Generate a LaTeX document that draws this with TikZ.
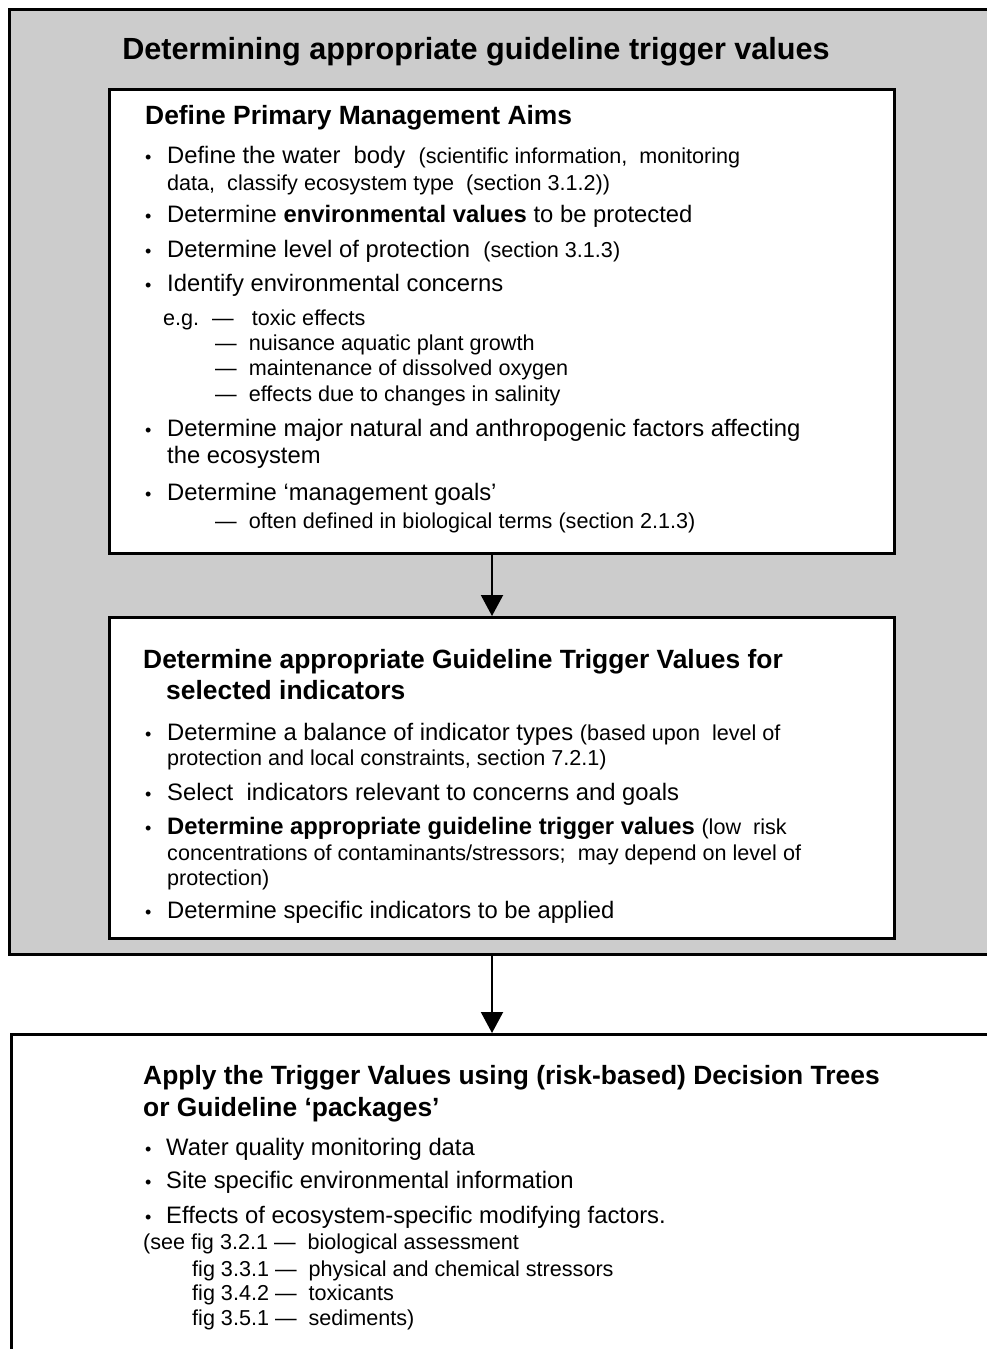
\documentclass[tikz,border=0pt]{standalone}
\usepackage{fontspec}
\setmainfont{Liberation Sans}
\usepackage{tikz}
\usepackage{xcolor}
\usetikzlibrary{arrows.meta,positioning}
\definecolor{shade}{HTML}{CCCCCC}
\definecolor{ink}{HTML}{000000}
\newcommand{\notesize}{\fontsize{21.6}{25}\selectfont}
\newcommand{\bul}[1][21pt]{\makebox[#1][l]{\fontsize{18}{20}\selectfont•}}
\tikzset{
  panel/.style={draw=ink, fill=shade, line width=2.6pt, inner sep=0pt, anchor=north west},
  card/.style={draw=ink, fill=white, line width=2.6pt, inner sep=0pt, anchor=north west},
  flow/.style={-{Triangle[length=21pt,width=22pt]}, line width=2pt, draw=ink},
  headline/.style={anchor=base, inner sep=0pt, text=ink,
                   font=\fontsize{30.6}{36}\selectfont\bfseries},
  head/.style={anchor=base west, inner sep=0pt, text=ink,
               font=\fontsize{26.4}{31}\selectfont\bfseries},
  item/.style={anchor=base west, inner sep=0pt, text=ink,
               font=\fontsize{23.8}{28}\selectfont},
  note/.style={anchor=base west, inner sep=0pt, text=ink, font=\notesize}
}

\begin{document}
\begin{tikzpicture}[x=1pt,y=-1pt]
  \useasboundingbox (0,0) rectangle (986,1349);
  % frames
  \node[panel,minimum width=1000pt,minimum height=945pt] (outer) at (8,8) {};
  \node[card,minimum width=785pt,minimum height=464pt] (aims) at (108,88) {};
  \node[card,minimum width=785pt,minimum height=321pt] (targets) at (108,616) {};
  \node[card,minimum width=1000pt,minimum height=400pt] (apply) at (10,1033) {};
  \coordinate (axis) at (492,0);
  \draw[flow] (axis |- aims.south) -- (axis |- targets.north);
  \draw[flow] (axis |- outer.south) -- (axis |- apply.north);

  \node[headline] (ttl) at (476,59) {Determining appropriate guideline trigger values};

  % primary management aims
  \node[head] (a0) at (145,124.5) {Define Primary Management Aims};
  \node[item] (a1) at (145,163.5) {\bul[22pt]Define the water\ \ body\ \ {\notesize(scientific information,\ \ monitoring}};
  \node[note] (a1b) at (167,190) {data,\ \ classify ecosystem type\ \ (section 3.1.2))};
  \node[item] (a2) at (145,222.5) {\bul[22pt]Determine \textbf{environmental values} to be protected};
  \node[item] (a3) at (145,257.5) {\bul[22pt]Determine level of protection\ \ {\notesize(section 3.1.3)}};
  \node[item] (a4) at (145,291.5) {\bul[22pt]Identify environmental concerns};
  \node[note] (eg1) at (163,325) {e.g.\hspace{13pt}—\hspace{18pt}toxic effects};
  \node[note] (eg2) at (215,350) {—\ \ nuisance aquatic plant growth};
  \node[note] (eg3) at (215,375) {—\ \ maintenance of dissolved oxygen};
  \node[note] (eg4) at (215,401) {—\ \ effects due to changes in salinity};
  \node[item] (a5) at (145,436.5) {\bul[22pt]Determine major natural and anthropogenic factors affecting};
  \node[item] (a5b) at (167,463.5) {the ecosystem};
  \node[item] (a6) at (145,500.5) {\bul[22pt]Determine ‘management goals’};
  \node[note] (a6b) at (215,528) {—\ \ often defined in biological terms (section 2.1.3)};

  % trigger values for indicators
  \node[head] (b0) at (143,668.5) {Determine appropriate Guideline Trigger Values for};
  \node[head] (b0b) at (166,699.5) {selected indicators};
  \node[item] (b1) at (145,740.5) {\bul[22pt]Determine a balance of indicator types {\notesize(based upon\ \ level of}};
  \node[note] (b1b) at (167,765) {protection and local constraints, section 7.2.1)};
  \node[item] (b2) at (145,800.5) {\bul[22pt]Select\ \ indicators relevant to concerns and goals};
  \node[item] (b3) at (145,834.5) {\bul[22pt]\textbf{Determine appropriate guideline trigger values} {\notesize(low\ \ risk}};
  \node[note] (b3b) at (167,860) {concentrations of contaminants/stressors;\ \ may depend on level of};
  \node[note] (b3c) at (167,885) {protection)};
  \node[item] (b4) at (145,918.5) {\bul[22pt]Determine specific indicators to be applied};

  % applying the values
  \node[head] (c0) at (143,1084.5) {Apply the Trigger Values using (risk-based) Decision Trees};
  \node[head] (c0b) at (143,1116.5) {or Guideline ‘packages’};
  \node[item] (c1) at (145,1155.5) {\bul[21pt]Water quality monitoring data};
  \node[item] (c2) at (145,1188.5) {\bul[21pt]Site specific environmental information};
  \node[item] (c3) at (145,1223.5) {\bul[21pt]Effects of ecosystem-specific modifying factors.};
  \node[note] (f1) at (143,1249.7) {(see fig 3.2.1 —\ \ biological assessment};
  \node[note] (f2) at (192,1276) {fig 3.3.1 —\ \ physical and chemical stressors};
  \node[note] (f3) at (192,1300) {fig 3.4.2 —\ \ toxicants};
  \node[note] (f4) at (192,1325) {fig 3.5.1 —\ \ sediments)};
\end{tikzpicture}
\end{document}
